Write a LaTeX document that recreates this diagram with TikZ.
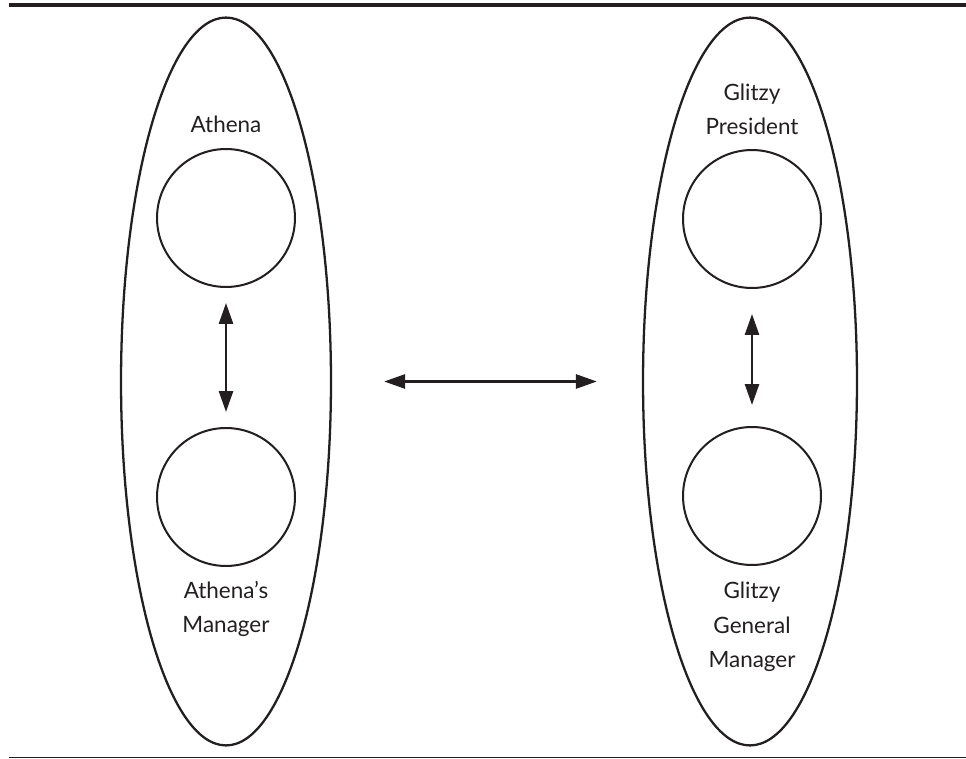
\documentclass[tikz,border=0pt]{standalone}
\usepackage{fontspec}
\setsansfont{Lato}
\usetikzlibrary{arrows.meta,shapes.geometric}
\definecolor{ink}{HTML}{231F20}
\tikzset{
  group/.style={draw=ink,ellipse,line width=1.3pt,inner sep=0pt,minimum width=4.2cm,minimum height=14.56cm},
  person/.style={draw=ink,circle,line width=1.15pt,inner sep=0pt,minimum size=2.76cm},
  dblarrow/.style={{Triangle[length=4.2mm,width=2.8mm]}-{Triangle[length=4.2mm,width=2.8mm]},draw=ink,line width=1.5pt},
  lbl/.style={text=ink,align=center,font=\sffamily\fontsize{12.8}{19.5}\selectfont}
}
\begin{document}
\begin{tikzpicture}[x=0.02cm,y=-0.02cm,line join=round]
		\useasboundingbox (0,0) rectangle (966,759);
		% rules
		\draw[ink,line width=2.3pt] (9,5.3)--(966,5.3);
		\draw[ink,line width=0.75pt] (9,757.5)--(966,757.5);
		% the two groups
		\node[group] (ellL) at (226,381.5) {};
		\node[group,minimum width=4.28cm] (ellR) at (750,381.5) {};
		\node[person] (athena) at (226,218) {};
		\node[person] (athmgr) at (226,497) {};
		\node[person] (president) at (752,219) {};
		\node[person] (genmgr) at (752,496) {};
		% labels
		\node[lbl] (lblAthena) at (226,124) {Athena};
		\node[lbl] (lblAthMgr) at (226,609) {Athena’s\\Manager};
		\node[lbl] (lblPres) at (752,109) {Glitzy\\President};
		\node[lbl] (lblGenMgr) at (752,627) {Glitzy\\General\\Manager};
		% arrows
		\draw[dblarrow,shorten <=0.3cm,shorten >=0.3cm] (athena.south)--(athmgr.north);
		\draw[dblarrow,shorten <=0.5cm,shorten >=0.42cm] (president.south)--(genmgr.north);
		\draw[dblarrow,shorten <=1.04cm,shorten >=0.9cm] (ellL.east)--(ellR.west);
\end{tikzpicture}
\end{document}
